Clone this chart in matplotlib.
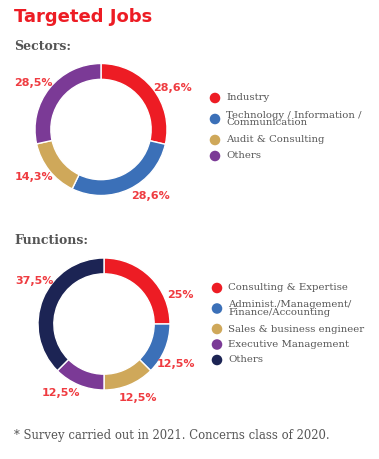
import matplotlib
matplotlib.use("Agg")
import matplotlib.pyplot as plt
import numpy as np

# ---------------- data ----------------
title = "Targeted Jobs"
sectors_title = "Sectors:"
sectors_labels = ["Industry", "Technology / Information /\nCommunication", "Audit & Consulting", "Others"]
sectors_values = [28.6, 28.6, 14.3, 28.5]
sectors_texts = ["28,6%", "28,6%", "14,3%", "28,5%"]

functions_title = "Functions:"
functions_labels = ["Consulting & Expertise", "Administ./Management/\nFinance/Accounting",
                    "Sales & business engineer", "Executive Management", "Others"]
functions_values = [25, 12.5, 12.5, 12.5, 37.5]
functions_texts = ["25%", "12,5%", "12,5%", "12,5%", "37,5%"]

footnote = "* Survey carried out in 2021. Concerns class of 2020."

# ---------------- style ----------------
W, H = 379, 459
sector_colors = ["#ED1C24", "#3B70B8", "#CFA85A", "#7B3A96"]
function_colors = ["#ED1C24", "#3B70B8", "#CFA85A", "#7B3A96", "#1C2454"]
label_red = "#EF3B40"
gray = "#555555"
serif = ["DejaVu Serif"]
sans = ["DejaVu Sans"]

fig = plt.figure(figsize=(W / 100, H / 100), dpi=100)
fig.patch.set_facecolor("white")

overlay = fig.add_axes([0, 0, 1, 1])
overlay.set_xlim(0, W)
overlay.set_ylim(H, 0)
overlay.axis("off")


def donut(cx, cy, r, values, colors, texts, angle_nudges, dist):
    ax = fig.add_axes([(cx - r) / W, (H - cy - r) / H, 2 * r / W, 2 * r / H])
    wedges, _ = ax.pie(values, colors=colors, startangle=90, counterclock=False,
                       radius=1.0, wedgeprops=dict(width=0.24, edgecolor="white", linewidth=1.0))
    ax.set_xlim(-1, 1)
    ax.set_ylim(-1, 1)
    ax.axis("off")
    for w, t, nd in zip(wedges, texts, angle_nudges):
        mid = np.deg2rad((w.theta1 + w.theta2) / 2 + nd)
        x, y = dist * np.cos(mid), dist * np.sin(mid)
        ax.text(x, y, t, ha="center", va="center", color=label_red, fontsize=8,
                fontweight="bold", family=sans, clip_on=False)
    return ax


def legend(x, y0, labels, colors, step, extra):
    y = y0
    for lab, col in zip(labels, colors):
        n = lab.count("\n")
        yc = y + n * extra / 2
        overlay.scatter([x], [yc], s=58, color=col, edgecolors="none", zorder=3)
        overlay.text(x + 11, yc, lab, ha="left", va="center", color=gray, fontsize=7.3,
                     family=serif, linespacing=0.75)
        y += step + n * extra


overlay.text(14, 17, title, ha="left", va="center", color="#ED1C24", fontsize=13,
             fontweight="bold", family=sans)
overlay.text(14, 46, sectors_title, ha="left", va="center", color=gray, fontsize=9,
             fontweight="bold", family=serif)
overlay.text(14, 240, functions_title, ha="left", va="center", color=gray, fontsize=9,
             fontweight="bold", family=serif)
overlay.text(14, 436, footnote, ha="left", va="center", color=gray, fontsize=8.4,
             family=serif)

donut(101, 129.5, 66, sectors_values, sector_colors, sectors_texts, [-8, 11, -3, 4], 1.25)
donut(104, 324, 66, functions_values, function_colors, functions_texts, [-24, -6.5, 2, -9.5, -9], 1.24)

legend(215, 98, sectors_labels, sector_colors, 16, 10)
legend(217, 288, functions_labels, function_colors, 15.5, 10)

fig.savefig("out.png", dpi=100, facecolor="white")
